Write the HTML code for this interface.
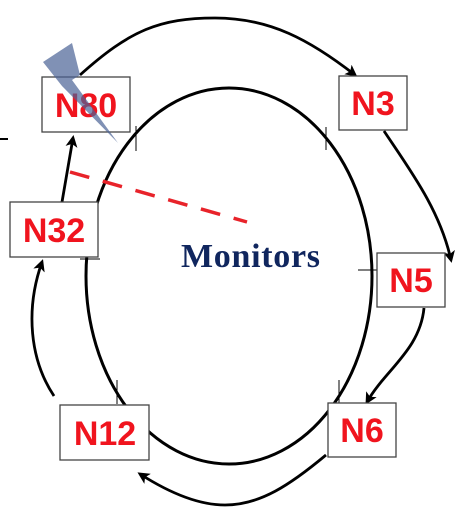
<!DOCTYPE html>
<html><head><style>html,body{margin:0;padding:0;background:#fff}svg{display:block}</style></head>
<body>
<svg width="462" height="516" viewBox="0 0 462 516" xmlns="http://www.w3.org/2000/svg">
<defs><marker id="a" markerWidth="12" markerHeight="12" refX="9" refY="6" orient="auto" markerUnits="userSpaceOnUse"><path d="M0,0 L12,6 L0,12 L3,6 z" fill="#000"/></marker></defs>
<ellipse cx="229" cy="276" rx="143" ry="188" fill="none" stroke="#000" stroke-width="3"/>
<g stroke="#000" stroke-width="1">
<line x1="136" y1="126" x2="136" y2="151"/><line x1="326" y1="127" x2="326" y2="150"/>
<line x1="80" y1="259" x2="100" y2="259"/><line x1="358" y1="270" x2="377" y2="270"/>
<line x1="117" y1="380" x2="117" y2="404"/><line x1="339" y1="380" x2="339" y2="404"/>
<line x1="0" y1="139" x2="8" y2="139" stroke-width="2"/>
</g>
<g fill="none" stroke="#000" stroke-width="2.8" marker-end="url(#a)">
<path d="M80,75 C130,30 160,18 215,18 C270,18 310,40 355,75"/>
<path d="M384,131 C410,170 440,210 451,260"/>
<path d="M424,308 C420,350 385,370 367,402"/>
<path d="M326,455 C290,485 260,505 225,505 C195,505 165,490 140,474"/>
<path d="M54,396 C30,360 25,310 42,262"/>
<path d="M62,202 L73,138"/>
</g>
<line x1="70" y1="172" x2="247" y2="222" stroke="#e8232a" stroke-width="3.5" stroke-dasharray="20,14"/>
<g fill="#fff" stroke="#444" stroke-width="1.3">
<rect x="42" y="77" width="88" height="55"/><rect x="10" y="202" width="88" height="55"/>
<rect x="339" y="76" width="68" height="54"/><rect x="377" y="253" width="68" height="54"/>
<rect x="328" y="403" width="68" height="54"/><rect x="60" y="405" width="89" height="55"/>
</g>
<g font-family="Liberation Sans, sans-serif" font-weight="bold" font-size="34" fill="#f0141e" text-anchor="middle">
<text x="86" y="117">N80</text><text x="54" y="242">N32</text>
<text x="373" y="115">N3</text><text x="411" y="292">N5</text>
<text x="362" y="442">N6</text><text x="105" y="445">N12</text>
</g>
<polygon points="43,62 72,43 80,75 72,80 118,143 62,86" fill="#4a6296" fill-opacity="0.7"/>
<text x="181" y="267" font-family="Liberation Serif, serif" font-weight="bold" font-size="34" fill="#10265e" textLength="139">Monitors</text>
</svg>
</body></html>
